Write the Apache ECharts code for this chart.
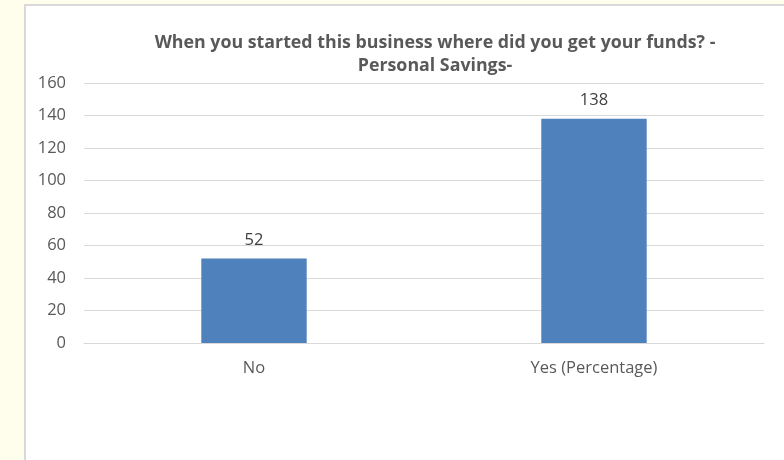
<!DOCTYPE html>
<html>
<head>
<meta charset="utf-8">
<script src="https://cdn.jsdelivr.net/npm/echarts@6/dist/echarts.min.js"></script>
<style>
  html, body { margin: 0; padding: 0; background: #FFFDEB; }
  #frame { position: absolute; left: 24px; top: 4px; width: 800px; height: 500px;
           background: #fff; border: 2px solid #D9D9D9; box-sizing: border-box; }
  #chart { position: absolute; left: 0; top: 0; width: 784px; height: 460px; }
</style>
</head>
<body>
<div id="frame"></div>
<div id="chart"></div>
<script>
// Survey responses: source of start-up funds (personal savings)
const categories = ['No', 'Yes (Percentage)'];
const counts = [52, 138];
const yTicks = { min: 0, max: 160, interval: 20 };
const titleText = 'When you started this business where did you get your funds? -\nPersonal Savings-';

const chart = echarts.init(document.getElementById('chart'), null, { renderer: 'canvas' });
const font = '"Open Sans", "Liberation Sans", sans-serif';
chart.setOption({
  backgroundColor: 'transparent',
  animation: false,
  title: {
    text: titleText,
    left: 430,
    top: 26,
    textAlign: 'center',
    textStyle: { fontFamily: font, fontSize: 17.8, fontWeight: 'bold', color: '#595959', lineHeight: 23 }
  },
  grid: { left: 84, right: 20, top: 83, bottom: 117, containLabel: false },
  xAxis: {
    type: 'category',
    data: categories,
    axisLine: { show: true, lineStyle: { color: '#D9D9D9', width: 1 } },
    axisTick: { show: false },
    axisLabel: { fontFamily: font, fontSize: 16.5, color: '#595959', margin: 17 }
  },
  yAxis: {
    type: 'value',
    min: yTicks.min, max: yTicks.max, interval: yTicks.interval,
    axisLine: { show: false },
    axisTick: { show: false },
    splitLine: { lineStyle: { color: '#D9D9D9', width: 1 } },
    axisLabel: { fontFamily: font, fontSize: 16.5, color: '#595959', margin: 18 }
  },
  series: [{
    type: 'bar',
    data: counts,
    barWidth: '31%',
    itemStyle: { color: '#4F81BD' },
    label: { show: true, position: 'top', distance: 10, fontFamily: font, fontSize: 16.5, color: '#404040' }
  }]
});
</script>
</body>
</html>
